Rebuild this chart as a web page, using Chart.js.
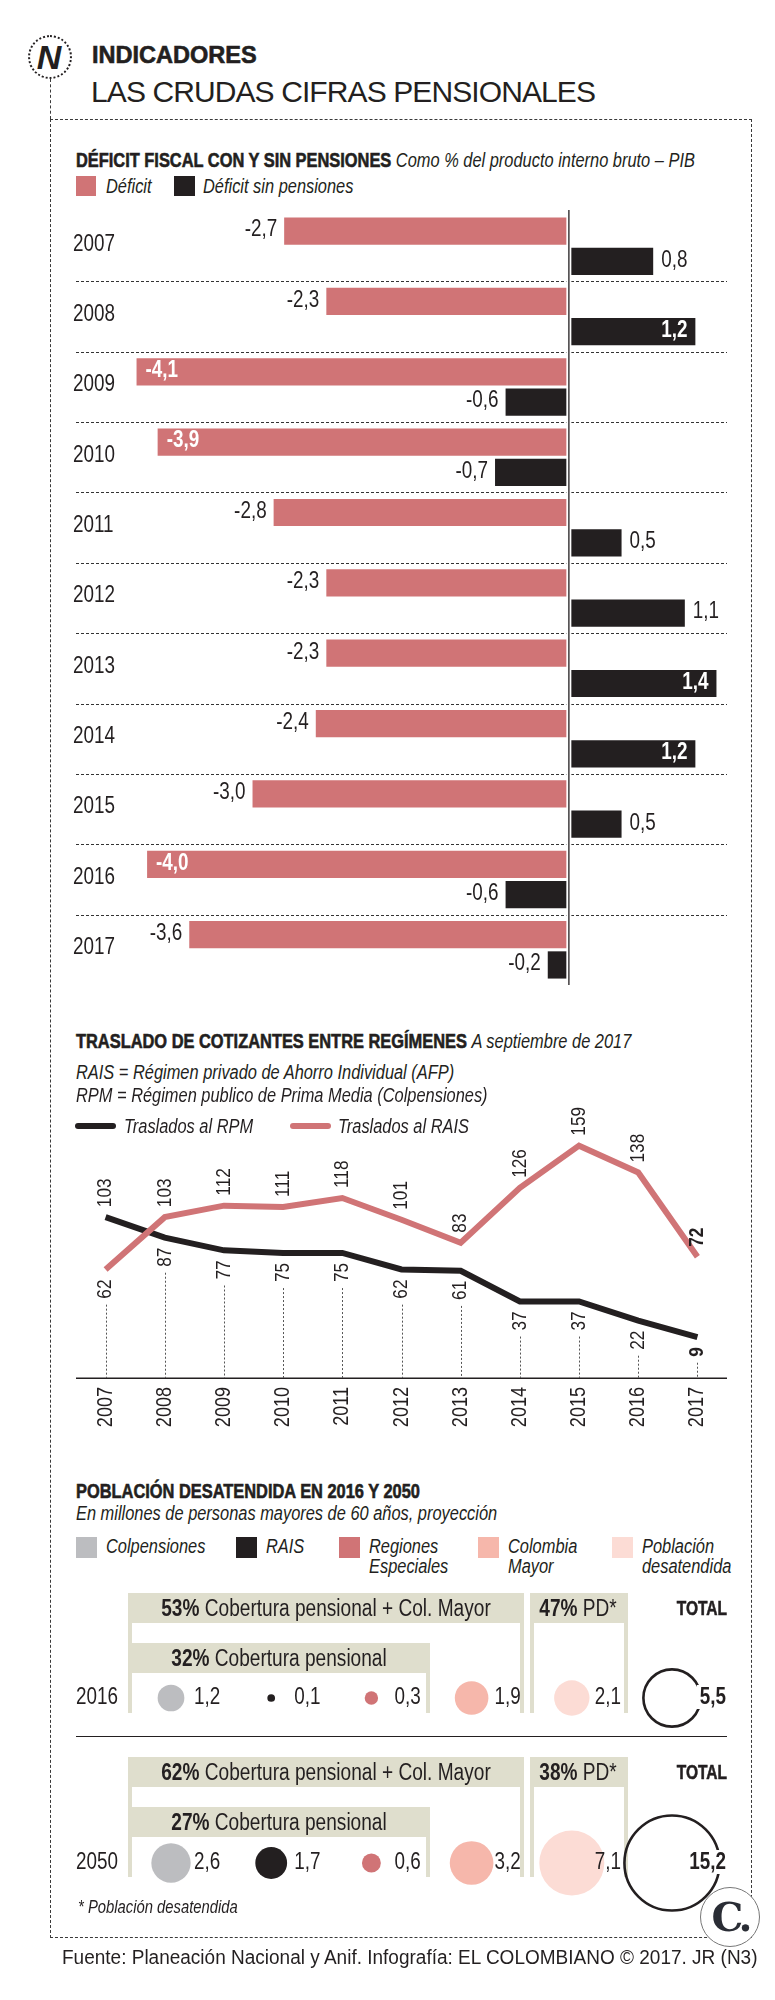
<!DOCTYPE html>
<html lang="es">
<head>
<meta charset="utf-8">
<script src="https://cdn.jsdelivr.net/npm/chart.js@4.4.1/dist/chart.umd.min.js"></script>
<style>
  body { margin: 0; width: 775px; height: 2000px; position: relative; overflow: hidden; background: #fff;
         font-family: "Liberation Sans", Arial, sans-serif; color: #231f20; }
  canvas { position: absolute; left: 0; z-index: 1; }
  .txt { position: absolute; white-space: nowrap; z-index: 2; }
  .b { font-weight: bold; }
  .heavy { font-weight: bold; -webkit-text-stroke: 0.6px #231f20; }
  .i { font-style: italic; }
  .box { position: absolute; z-index: 0; }
</style>
</head>
<body>
<canvas id="deficitChart" width="775" height="800" style="top:200px"></canvas>
<canvas id="trasladosChart" width="775" height="350" style="top:1090px"></canvas>
<canvas id="poblacionChart" width="775" height="380" style="top:1580px"></canvas>

<script>
/* ================= DATA ================= */
const years = ["2007", "2008", "2009", "2010", "2011", "2012", "2013", "2014", "2015", "2016", "2017"];
const deficit = [-2.7, -2.3, -4.1, -3.9, -2.8, -2.3, -2.3, -2.4, -3.0, -4.0, -3.6];
const deficitSinPensiones = [0.8, 1.2, -0.6, -0.7, 0.5, 1.1, 1.4, 1.2, 0.5, -0.6, -0.2];

const trasladosRPM = [103, 87, 77, 75, 75, 62, 61, 37, 37, 22, 9];
const trasladosRAIS = [62, 103, 112, 111, 118, 101, 83, 126, 159, 138, 72];

const grupos = ["Colpensiones", "RAIS", "Regiones Especiales", "Colombia Mayor", "Población desatendida", "TOTAL"];
const anios = ["2016", "2050"];
const poblacion2016 = [1.2, 0.1, 0.3, 1.9, 2.1, 5.5];
const poblacion2050 = [2.6, 1.7, 0.6, 3.2, 7.1, 15.2];
const coberturaPensional = ["32%", "27%"];
const coberturaColMayor = ["53%", "62%"];
const poblacionPD = ["47%", "38%"];

/* ================= COLORS / FONTS ================= */
const RED = "#d07476";
const BLACK = "#231f20";
const grupoColors = ["#bcbdc0", BLACK, RED, "#f6b7ab", "#fcdcd5", "rgba(0,0,0,0)"];
const BEIGE = "#dfdecd";
const FONT = '"Liberation Sans", Arial, sans-serif';
const SX = 0.82; // condensed look

const fmt = v => v.toFixed(1).replace(".", ",");

/* ================= STATIC TEXT ================= */
function txt(html, x, base, size, cls = "", align = "left", sx = SX) {
  const d = document.createElement("div");
  d.className = "txt " + cls;
  d.innerHTML = html;
  d.style.fontSize = size + "px";
  d.style.lineHeight = size + "px";
  d.style.top = (base - 0.847 * size) + "px";
  if (align === "right") d.style.right = (775 - x) + "px";
  else if (align === "center") { d.style.left = (x - 300) + "px"; d.style.width = "600px"; d.style.textAlign = "center"; }
  else d.style.left = x + "px";
  d.style.transform = `scaleX(${sx})`;
  d.style.transformOrigin = align === "right" ? "right center" : align === "center" ? "center center" : "left center";
  document.body.appendChild(d);
  return d;
}

function box(x, y, w, h, style) {
  const d = document.createElement("div");
  d.className = "box";
  Object.assign(d.style, { left: x + "px", top: y + "px", width: w + "px", height: h + "px" }, style || {});
  document.body.appendChild(d);
  return d;
}

// canvas text, condensed horizontally (optionally rotated)
function label(ctx, text, x, y, font, align, rot = 0, sx = SX) {
  ctx.save();
  ctx.translate(x, y);
  if (rot) ctx.rotate(rot);
  ctx.scale(sx, 1);
  ctx.font = font;
  ctx.textAlign = align;
  ctx.textBaseline = "middle";
  ctx.fillText(text, 0, 0);
  const w = ctx.measureText(text).width * sx;
  ctx.restore();
  return w;
}

// outer frame + logo
box(50, 119, 702, 1819, { border: "1px dashed #3a3a3a", boxSizing: "border-box" });
box(50, 79, 0, 40, { borderLeft: "1px dashed #3a3a3a" });
const logo = box(28, 35, 40, 40, { border: "2px dotted #231f20", borderRadius: "50%", zIndex: 2 });
logo.innerHTML = '<div style="font:italic bold 34px \'Liberation Sans\',sans-serif;text-align:center;line-height:40px;margin-left:-2px">N</div>';

txt("INDICADORES", 92, 63, 24, "heavy", "left", 0.98);
txt("LAS CRUDAS CIFRAS PENSIONALES", 91, 102, 30, "", "left", 1).style.letterSpacing = "-0.9px";

// section 1
txt('<span class="heavy">DÉFICIT FISCAL CON Y SIN PENSIONES</span> <span class="i">Como % del producto interno bruto – PIB</span>', 76, 167, 20);
box(76, 176, 20, 20, { background: RED, zIndex: 2 });
txt("Déficit", 106, 193, 20, "i");
box(174, 176, 21, 20, { background: BLACK, zIndex: 2 });
txt("Déficit sin pensiones", 203, 193, 20, "i");

// section 2
txt('<span class="heavy">TRASLADO DE COTIZANTES ENTRE REGÍMENES</span> <span class="i">A septiembre de 2017</span>', 76, 1048, 20);
txt("RAIS = Régimen privado de Ahorro Individual (AFP)", 76, 1079, 20, "i");
txt("RPM = Régimen publico de Prima Media (Colpensiones)", 76, 1102, 20, "i");
box(75, 1123, 41, 6, { background: BLACK, borderRadius: "3px", zIndex: 2 });
txt("Traslados al RPM", 124, 1133, 20, "i");
box(290, 1123, 41, 6, { background: RED, borderRadius: "3px", zIndex: 2 });
txt("Traslados al RAIS", 338, 1133, 20, "i");

// section 3
txt("POBLACIÓN DESATENDIDA EN 2016 Y 2050", 76, 1498, 20, "heavy");
txt("En millones de personas mayores de 60 años, proyección", 76, 1520, 20, "i");
const legendX = [76, 236, 339, 478, 612];
grupos.slice(0, 5).forEach((g, i) => {
  box(legendX[i], 1537, 21, 21, { background: grupoColors[i], zIndex: 2 });
  const parts = g.split(" ");
  txt(parts[0], legendX[i] + 30, 1553, 20, "i");
  if (parts[1]) txt(parts[1], legendX[i] + 30, 1573, 20, "i");
});

// beige header frames for each row
anios.forEach((a, k) => {
  const T = 1593 + k * 164;
  box(128, T, 396, 120, { background: BEIGE });
  box(132, T + 30, 388, 90, { background: "#fff" });
  box(128, T + 50, 302, 70, { background: BEIGE });
  box(132, T + 80, 294, 40, { background: "#fff" });
  box(530, T, 98, 120, { background: BEIGE });
  box(534, T + 30, 90, 90, { background: "#fff" });
  txt(`<b>${coberturaColMayor[k]}</b> Cobertura pensional + Col. Mayor`, 326, T + 23, 23, "", "center", 0.83);
  txt(`<b>${coberturaPensional[k]}</b> Cobertura pensional`, 279, T + 73, 23, "", "center", 0.83);
  txt(`<b>${poblacionPD[k]}</b> PD*`, 578, T + 23, 23, "", "center", 0.83);
  txt("TOTAL", 727, T + 22, 21, "heavy", "right", 0.74);
});
box(76, 1736, 651, 0, { borderTop: "1.5px solid " + BLACK });
txt("* Población desatendida", 78, 1913, 19, "i", "left", 0.78);
txt("Fuente: Planeación Nacional y Anif. Infografía: EL COLOMBIANO © 2017. JR (N3)", 62, 1964, 20, "", "left", 0.95);

const cLogo = box(700, 1887, 60, 60, { border: "1.5px solid #777", borderRadius: "50%", background: "#fff", zIndex: 3, boxSizing: "border-box" });
cLogo.innerHTML = '<div style="font:bold 40px \'DejaVu Serif\',\'Liberation Serif\',serif;color:#2a2d35;text-align:center;line-height:57px;letter-spacing:-4px">C.</div>';

/* ================= CHART 1: DÉFICIT ================= */
const deficitPlugin = {
  id: "deficitDeco",
  beforeDatasetsDraw(chart) {
    const { ctx, scales: { y } } = chart;
    ctx.save();
    ctx.strokeStyle = "#333";
    ctx.lineWidth = 1;
    ctx.setLineDash([3, 2]);
    for (let i = 1; i < years.length; i++) {
      const yy = Math.round((y.getPixelForValue(i - 1) + y.getPixelForValue(i)) / 2) + 0.5;
      ctx.beginPath();
      ctx.moveTo(76, yy);
      ctx.lineTo(727, yy);
      ctx.stroke();
    }
    ctx.setLineDash([]);
    ctx.fillStyle = BLACK;
    years.forEach((yr, i) => label(ctx, yr, 73, y.getPixelForValue(i) - 2, "23px " + FONT, "left"));
    ctx.restore();
  },
  afterDatasetsDraw(chart) {
    const { ctx, chartArea, scales: { x } } = chart;
    const x0 = x.getPixelForValue(0);
    ctx.save();
    ctx.fillStyle = "#fff";
    ctx.fillRect(x0 - 2.5, chartArea.top - 2, 5, chartArea.bottom - chartArea.top + 4);
    ctx.fillStyle = BLACK;
    ctx.fillRect(x0 - 0.6, chartArea.top - 1, 1.3, chartArea.bottom - chartArea.top + 1);

    chart.data.datasets.forEach((ds, di) => {
      chart.getDatasetMeta(di).data.forEach((el, i) => {
        const v = ds.data[i];
        const inside = di === 0 ? v <= -3.9 : v >= 1.2;
        ctx.fillStyle = inside ? "#fff" : BLACK;
        const f = (inside ? "bold " : "") + "23px " + FONT;
        if (v < 0) label(ctx, fmt(v), inside ? el.x + 9 : el.x - 7, el.y - 1, f, inside ? "left" : "right");
        else label(ctx, fmt(v), inside ? el.x - 8 : el.x + 8, el.y - 1, f, inside ? "right" : "left");
      });
    });
    ctx.restore();
  }
};

new Chart(document.getElementById("deficitChart"), {
  type: "bar",
  data: {
    labels: years,
    datasets: [
      { label: "Déficit", data: deficit, backgroundColor: RED },
      { label: "Déficit sin pensiones", data: deficitSinPensiones, backgroundColor: BLACK }
    ]
  },
  options: {
    indexAxis: "y",
    responsive: false,
    animation: false,
    events: [],
    categoryPercentage: 0.86,
    barPercentage: 0.9,
    layout: { padding: { left: 126, right: 48, top: 11, bottom: 15 } },
    plugins: { legend: { display: false }, tooltip: { enabled: false } },
    scales: {
      x: { display: false, min: -4.2, max: 1.5 },
      y: { display: false }
    }
  },
  plugins: [deficitPlugin]
});

/* ================= CHART 2: TRASLADOS ================= */
const trasladosPlugin = {
  id: "trasladosDeco",
  afterDatasetsDraw(chart) {
    const { ctx, chartArea } = chart;
    const rpm = chart.getDatasetMeta(0).data;
    const rais = chart.getDatasetMeta(1).data;
    const UP = -Math.PI / 2;
    ctx.save();
    ctx.fillStyle = BLACK;
    ctx.fillRect(76, chartArea.bottom - 0.5, 651, 1.5);
    years.forEach((yr, i) => {
      const last = i === years.length - 1;
      const upRPM = trasladosRPM[i] >= trasladosRAIS[i];
      const up = upRPM ? { el: rpm[i], v: trasladosRPM[i] } : { el: rais[i], v: trasladosRAIS[i] };
      const dn = upRPM ? { el: rais[i], v: trasladosRAIS[i] } : { el: rpm[i], v: trasladosRPM[i] };
      const f = (last ? "bold " : "") + "21px " + FONT;
      ctx.fillStyle = BLACK;
      label(ctx, String(up.v), up.el.x, up.el.y - 10, f, "left", UP);
      const w = label(ctx, String(dn.v), dn.el.x, dn.el.y + 10, f, "right", UP);
      const startY = dn.el.y + 10 + w + 6;
      if (startY < chartArea.bottom - 3) {
        ctx.strokeStyle = "#555";
        ctx.lineWidth = 1;
        ctx.setLineDash([2, 2]);
        ctx.beginPath();
        ctx.moveTo(Math.round(dn.el.x) + 0.5, startY);
        ctx.lineTo(Math.round(dn.el.x) + 0.5, chartArea.bottom);
        ctx.stroke();
        ctx.setLineDash([]);
      }
      label(ctx, yr, rpm[i].x, chartArea.bottom + 9, "22px " + FONT, "right", UP);
    });
    ctx.restore();
  }
};

new Chart(document.getElementById("trasladosChart"), {
  type: "line",
  data: {
    labels: years,
    datasets: [
      { label: "Traslados al RPM", data: trasladosRPM, borderColor: BLACK, order: 1 },
      { label: "Traslados al RAIS", data: trasladosRAIS, borderColor: RED, order: 0 }
    ]
  },
  options: {
    responsive: false,
    animation: false,
    events: [],
    elements: { line: { borderWidth: 6, tension: 0, borderCapStyle: "butt" }, point: { radius: 0 } },
    layout: { padding: { left: 76, right: 48, top: 48, bottom: 62 } },
    plugins: { legend: { display: false }, tooltip: { enabled: false } },
    scales: {
      x: { display: false, offset: true },
      y: { display: false, min: -23, max: 165 }
    }
  },
  plugins: [trasladosPlugin]
});

/* ================= CHART 3: POBLACIÓN ================= */
const bubbleR = v => 12.2 * Math.sqrt(v);
const rows = [poblacion2016, poblacion2050];

const poblacionPlugin = {
  id: "poblacionDeco",
  afterDatasetsDraw(chart) {
    const { ctx } = chart;
    ctx.save();
    chart.data.datasets.forEach((ds, di) => {
      const meta = chart.getDatasetMeta(di);
      ctx.fillStyle = BLACK;
      label(ctx, anios[di], 76, meta.data[0].y, "23px " + FONT, "left");
      meta.data.forEach((el, i) => {
        const txtV = fmt(ds.data[i].v);
        if (i < grupos.length - 1) {
          ctx.fillStyle = BLACK;
          label(ctx, txtV, el.x + 23, el.y, "23px " + FONT, "left");
        } else {
          ctx.font = "bold 23px " + FONT;
          const w = ctx.measureText(txtV).width * SX;
          ctx.fillStyle = "#fff";
          ctx.fillRect(726 - w - 3, el.y - 13, w + 6, 24);
          ctx.fillStyle = BLACK;
          label(ctx, txtV, 726, el.y, "bold 23px " + FONT, "right");
        }
      });
    });
    ctx.restore();
  }
};

new Chart(document.getElementById("poblacionChart"), {
  type: "bubble",
  data: {
    datasets: anios.map((a, k) => ({
      label: a,
      data: grupos.map((g, i) => ({ x: g, y: a, v: rows[k][i], r: bubbleR(rows[k][i]) })),
      backgroundColor: ctx => grupoColors[ctx.dataIndex],
      borderColor: ctx => (ctx.dataIndex === grupos.length - 1 ? BLACK : "rgba(0,0,0,0)"),
      borderWidth: ctx => (ctx.dataIndex === grupos.length - 1 ? 2.6 : 0),
      clip: false
    }))
  },
  options: {
    responsive: false,
    animation: false,
    events: [],
    layout: { padding: { left: 171, right: 103, top: 118, bottom: 97 } },
    plugins: { legend: { display: false }, tooltip: { enabled: false } },
    scales: {
      x: { type: "category", labels: grupos, offset: false, display: false },
      y: { type: "category", labels: anios, offset: false, display: false }
    }
  },
  plugins: [poblacionPlugin]
});
</script>
</body>
</html>
